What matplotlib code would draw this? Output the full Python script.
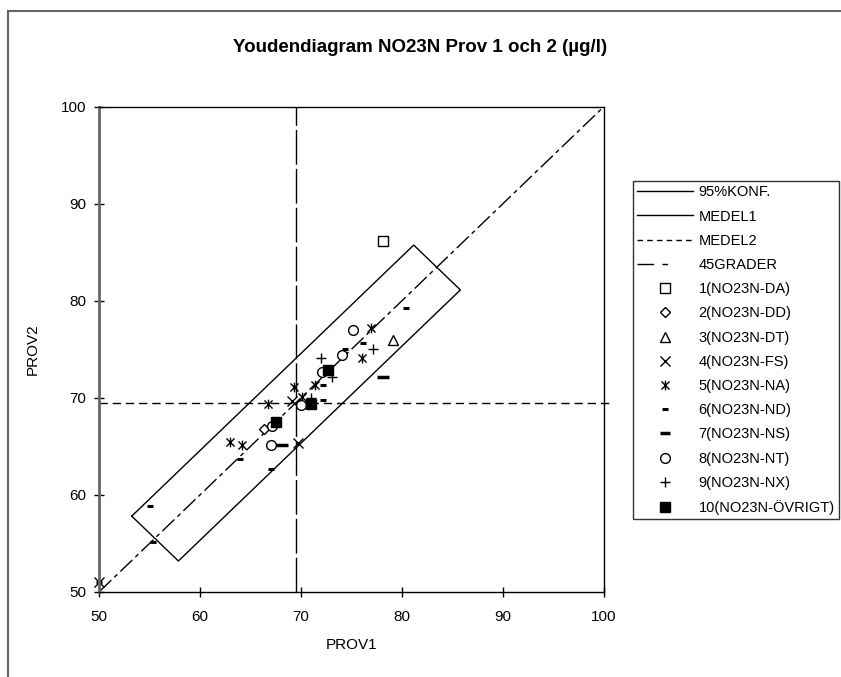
import matplotlib.pyplot as plt
import numpy as np
from matplotlib.lines import Line2D
from matplotlib.patches import Rectangle
from matplotlib.path import Path

plt.rcParams['font.family'] = ['Liberation Sans', 'DejaVu Sans']

# group means and 95% confidence box (long/short half axes along 45 degrees)
medel1 = 69.5
medel2 = 69.45
konf_half_len = 19.76
konf_half_wid = 3.27

# lab results per method: (prov1, prov2)
da_x = [78.1]
da_y = [86.2]
dd_x = [66.3]
dd_y = [66.8]
dt_x = [79.1]
dt_y = [76.0]
fs_x = [50.0, 69.1, 69.7]
fs_y = [51.0, 69.7, 65.3]
na_x = [69.3, 66.75, 70.1, 63.0, 64.1, 76.9, 76.0, 71.4]
na_y = [71.1, 69.3, 70.1, 65.4, 65.15, 77.2, 74.1, 71.3]
nd_x = [80.4, 76.1, 74.4, 72.2, 72.2, 63.9, 55.0, 55.3, 67.05, 50.0]
nd_y = [79.2, 75.6, 75.05, 71.3, 69.8, 63.7, 58.8, 55.15, 62.7, 51.0]
ns_x = [78.1, 68.1]
ns_y = [72.1, 65.15]
nt_x = [75.1, 74.1, 72.1, 70.0, 67.15, 67.05]
nt_y = [77.0, 74.4, 72.6, 69.2, 67.1, 65.15]
nx_x = [77.1, 72.0, 73.1, 71.0]
nx_y = [75.05, 74.1, 72.1, 70.0]
ovr_x = [72.7, 71.0, 67.55]
ovr_y = [72.9, 69.3, 67.5]

labels = ['1(NO23N-DA)', '2(NO23N-DD)', '3(NO23N-DT)', '4(NO23N-FS)',
          '5(NO23N-NA)', '6(NO23N-ND)', '7(NO23N-NS)', '8(NO23N-NT)',
          '9(NO23N-NX)', '10(NO23N-ÖVRIGT)']

star = Path([(-1, -1), (1, 1), (-1, 1), (1, -1), (0, -1.2), (0, 1.2)],
            [Path.MOVETO, Path.LINETO, Path.MOVETO, Path.LINETO, Path.MOVETO, Path.LINETO])

styles = [
    dict(marker='s', ms=7, mfc='white', mec='black', mew=1),
    dict(marker='D', ms=5, mfc='white', mec='black', mew=1),
    dict(marker='^', ms=7.5, mfc='white', mec='black', mew=1),
    dict(marker='x', ms=6.5, mec='black', mew=1),
    dict(marker=star, ms=7, mec='black', mew=1),
    dict(marker='_', ms=4.5, mec='black', mew=2.2),
    dict(marker='_', ms=8, mec='black', mew=2.5),
    dict(marker='o', ms=7, mfc='white', mec='black', mew=1),
    dict(marker='+', ms=7.5, mec='black', mew=1),
    dict(marker='s', ms=6.5, mfc='black', mec='black', mew=1),
]
series = [(da_x, da_y), (dd_x, dd_y), (dt_x, dt_y), (fs_x, fs_y), (na_x, na_y),
          (nd_x, nd_y), (ns_x, ns_y), (nt_x, nt_y), (nx_x, nx_y), (ovr_x, ovr_y)]

fig = plt.figure(figsize=(8.41, 6.77), dpi=100)
ax = fig.add_axes([99.3 / 841, 1 - 591.7 / 677, 504.5 / 841, 485 / 677])

# confidence box
u = np.array([1, 1]) / np.sqrt(2)
v = np.array([1, -1]) / np.sqrt(2)
c = np.array([medel1, medel2])
corners = [c - konf_half_len * u - konf_half_wid * v,
           c + konf_half_len * u - konf_half_wid * v,
           c + konf_half_len * u + konf_half_wid * v,
           c - konf_half_len * u + konf_half_wid * v]
corners.append(corners[0])
corners = np.array(corners)
ax.plot(corners[:, 0], corners[:, 1], color='black', lw=1)

ax.plot([medel1, medel1], [50, 100], color='black', lw=1, linestyle=(0, (25, 3)))
ax.plot([50, 100.8], [medel2, medel2], color='black', lw=1, linestyle=(0, (6, 3.5)), clip_on=False)
ax.plot([50, 100], [50, 100], color='black', lw=1, linestyle=(0, (12, 3, 3, 3)))

for (xs, ys), st in zip(series, styles):
    ax.plot(xs, ys, linestyle='none', clip_on=False, **st)

ax.set_xlim(50, 100)
ax.set_ylim(50, 100)
ax.set_xticks([50, 60, 70, 80, 90, 100])
ax.set_yticks([50, 60, 70, 80, 90, 100])
ax.tick_params(direction='inout', length=7, width=1, labelsize=11)
ax.tick_params(axis='x', pad=10)
ax.tick_params(axis='y', pad=6)
ax.spines['left'].set_color('#666666')
ax.spines['left'].set_linewidth(2)
for s in ['top', 'right', 'bottom']:
    ax.spines[s].set_linewidth(1)
ax.set_xlabel('PROV1', fontsize=11, labelpad=10)
ax.set_ylabel('PROV2', fontsize=11, labelpad=15)

fig.suptitle('Youdendiagram NO23N Prov 1 och 2 (µg/l)', fontsize=13.5, fontweight='bold',
             x=0.5, y=1 - 47 / 677, va='center')

handles = [
    Line2D([], [], color='black', lw=1),
    Line2D([], [], color='black', lw=1),
    Line2D([], [], color='black', lw=1, linestyle=(0, (4, 3))),
    Line2D([], [], color='black', lw=1, linestyle=(0, (12, 6, 4, 20))),
]
for st in styles:
    h = dict(st)
    h['ms'] = min(h['ms'], 7)
    handles.append(Line2D([], [], linestyle='none', **h))
leg = fig.legend(handles, ['95%KONF.', 'MEDEL1', 'MEDEL2', '45GRADER'] + labels,
                 loc='upper left', bbox_to_anchor=(633 / 841, 1 - 181 / 677),
                 fontsize=10.5, frameon=True, fancybox=False, edgecolor='black',
                 handlelength=3.8, handletextpad=0.4, labelspacing=0.70,
                 borderpad=0.3, borderaxespad=0)
leg.get_frame().set_linewidth(1)

fig.add_artist(Rectangle((8 / 841, -0.1), 1.2, 1.1 - 11 / 677, transform=fig.transFigure,
                         fill=False, edgecolor='#666666', lw=1.5))

fig.savefig('out.png', dpi=100)
